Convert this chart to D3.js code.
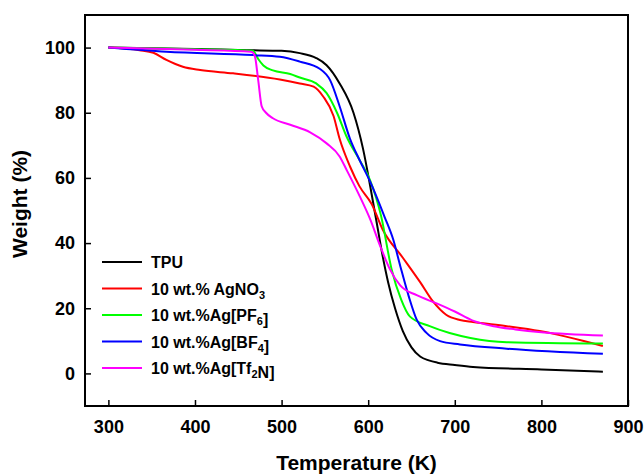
<!DOCTYPE html>
<html>
<head>
<meta charset="utf-8">
<script src="https://cdn.jsdelivr.net/npm/d3@7"></script>
<style>
  body { margin: 0; background: #fff; }
  svg { display: block; font-family: Arial, "Liberation Sans", sans-serif; font-weight: bold; }
</style>
</head>
<body>
<svg id="chart" width="644" height="474"></svg>
<script>
// TGA curves, temperature (K) vs weight (%)
const tpu = [[300,100],[400,99.6],[460,99.2],[500,99],[521,98.3],[540,96.8],[552,94.6],[567,89],[583,80],[594,69],[604,55],[610,46],[616,37],[623,28],[631,20],[640,13],[650,8],[660,5.2],[670,4],[680,3.3],[700,2.6],[721,2],[800,1.2],[871,0.5]];
const agNO3 = [[300,100],[336,99.2],[352,98.4],[367,96.2],[386,94.1],[406,93.1],[444,92.1],[498,90.2],[521,89],[537,88],[548,85],[560,79],[567,72],[579,63.5],[590,57.4],[604,52],[617,44],[640,35.5],[660,28],[675,22],[690,18],[706,16.4],[721,15.8],[760,14.5],[798,13],[871,8.4]];
const agPF6 = [[300,100],[400,99.5],[467,99],[473,96.5],[479,94.5],[490,93],[510,91.9],[521,90.8],[540,89],[552,86],[564,80],[575,72.7],[590,65.5],[602,59.4],[615,48.2],[627,32],[638,22.7],[648,17.5],[671,14.5],[694,12.4],[718,10.9],[760,9.6],[871,9.2]];
const agBF4 = [[300,100],[367,98.7],[467,97.7],[498,97.2],[521,95.7],[544,93.5],[556,90],[567,82],[579,72],[590,65.5],[602,59],[619,48],[629,41],[637,33],[647,23.5],[656,16.5],[667,12.5],[683,9.9],[706,8.9],[760,7.6],[871,6.0]];
const agTf2N = [[300,100],[400,99.3],[465,98.7],[469,97.5],[473,90],[477,82],[482,80],[490,78.3],[510,76.3],[533,74],[552,70.6],[567,66.6],[575,62.5],[590,54.5],[602,47.5],[614,39],[625,32],[637,27],[656,24],[679,21.5],[700,19],[720,16.3],[745,14.5],[770,13.5],[800,12.6],[871,11.6]];

const seriesData = [tpu, agNO3, agPF6, agBF4, agTf2N];
const seriesColors = ["#000000", "#ff0000", "#00ff00", "#0000ff", "#ff00ff"];
// legend labels: [text, subscript] pairs
const seriesLabels = [
  [["TPU", ""]],
  [["10 wt.% AgNO", "3"]],
  [["10 wt.%Ag[PF", "6"], ["]", ""]],
  [["10 wt.%Ag[BF", "4"], ["]", ""]],
  [["10 wt.%Ag[Tf", "2"], ["N]", ""]]
];

const xTicks = [300, 400, 500, 600, 700, 800, 900];
const yTicks = [0, 20, 40, 60, 80, 100];

const svg = d3.select("#chart");
const margin = {top: 15, right: 16, bottom: 68, left: 85};
const width = 644, height = 474;

const x = d3.scaleLinear().domain([273, 900]).range([margin.left, width - margin.right]);
const y = d3.scaleLinear().domain([-10, 110]).range([height - margin.bottom, margin.top]);

// curves
const line = d3.line()
  .x(d => x(d[0]))
  .y(d => y(d[1]))
  .curve(d3.curveMonotoneX);

svg.append("g")
  .selectAll("path")
  .data(seriesData)
  .enter()
  .append("path")
  .attr("d", line)
  .attr("fill", "none")
  .attr("stroke", (d, i) => seriesColors[i])
  .attr("stroke-width", 2);

// axes
const xAxis = svg.append("g")
  .attr("transform", `translate(0,${height - margin.bottom})`)
  .call(d3.axisBottom(x).tickValues(xTicks).tickSizeInner(-6).tickSizeOuter(0).tickPadding(14));

const yAxis = svg.append("g")
  .attr("transform", `translate(${margin.left},0)`)
  .call(d3.axisLeft(y).tickValues(yTicks).tickSizeInner(-6).tickSizeOuter(0).tickPadding(10));

[xAxis, yAxis].forEach(a => {
  a.select(".domain").remove();
  a.selectAll("line").attr("stroke", "#000").attr("stroke-width", 1.5);
  a.selectAll("text")
    .attr("fill", "#000")
    .attr("font-size", "18px")
    .attr("font-weight", "bold")
    .attr("font-family", "Arial, 'Liberation Sans', sans-serif");
});

// frame
svg.append("rect")
  .attr("x", margin.left)
  .attr("y", margin.top)
  .attr("width", width - margin.left - margin.right)
  .attr("height", height - margin.top - margin.bottom)
  .attr("fill", "none")
  .attr("stroke", "#000")
  .attr("stroke-width", 2);

// axis titles
svg.append("text")
  .attr("x", (margin.left + width - margin.right) / 2)
  .attr("y", 470)
  .attr("text-anchor", "middle")
  .attr("font-size", "21px")
  .text("Temperature (K)");

svg.append("text")
  .attr("transform", "translate(27,204) rotate(-90)")
  .attr("text-anchor", "middle")
  .attr("font-size", "21px")
  .text("Weight (%)");

// legend
const legend = svg.append("g").attr("transform", "translate(102,262)");
seriesLabels.forEach((parts, i) => {
  const g = legend.append("g").attr("transform", `translate(0,${i * 26.5})`);
  g.append("line")
    .attr("x1", 0).attr("x2", 40)
    .attr("y1", 0).attr("y2", 0)
    .attr("stroke", seriesColors[i])
    .attr("stroke-width", 2);
  const t = g.append("text")
    .attr("x", 49)
    .attr("y", 6)
    .attr("font-size", "16px");
  parts.forEach(([txt, sub]) => {
    t.append("tspan").text(txt);
    if (sub) {
      t.append("tspan").attr("dy", 4).attr("font-size", "11px").text(sub);
      t.append("tspan").attr("dy", -4).text("");
    }
  });
});
</script>
</body>
</html>
